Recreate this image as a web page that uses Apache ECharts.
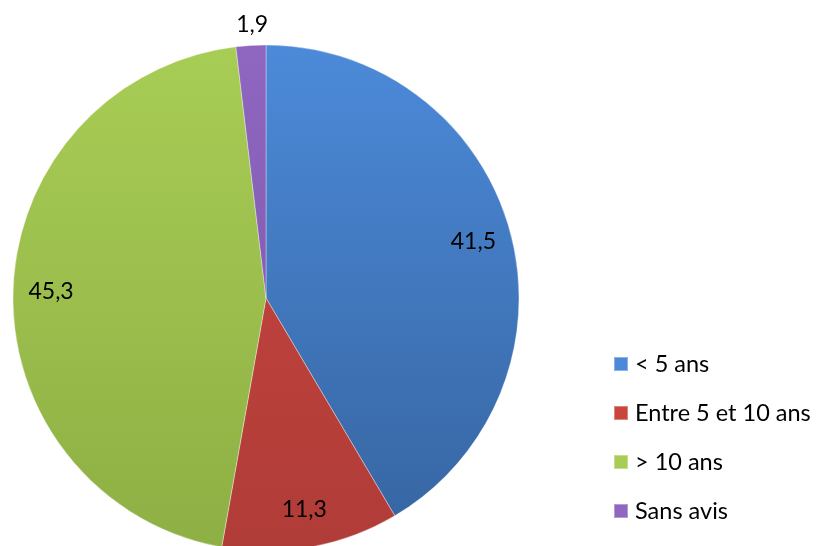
<!DOCTYPE html>
<html><head><meta charset="utf-8">
<script src="https://cdn.jsdelivr.net/npm/echarts@6/dist/echarts.min.js"></script>
<style>html,body{margin:0;padding:0;background:#fff}#c{width:817px;height:546px}</style>
</head><body><div id="c"></div>
<script>
const categories = ['< 5 ans', 'Entre 5 et 10 ans', '> 10 ans', 'Sans avis'];
const values = [41.5, 11.3, 45.3, 1.9];
const labels = ['41,5', '11,3', '45,3', '1,9'];
const colorsTop = ['#4c8ad9', '#c9463f', '#a8cd55', '#8f66c0'];
const colorsBot = ['#3664a0', '#b03c38', '#8eaf44', '#7a56a6'];

function grad(i){
  return {type:'linear', x:0, y:44, x2:0, y2:550, global:true,
    colorStops:[{offset:0,color:colorsTop[i]},{offset:1,color:colorsBot[i]}]};
}
const chart = echarts.init(document.getElementById('c'));
const FONT = 'Lato';
chart.setOption({
  animation:false,
  legend:{
    orient:'vertical', left:608, top:347,
    itemWidth:14, itemHeight:14, itemGap:25,
    icon:'rect',
    textStyle:{fontFamily:FONT, fontSize:23.5, color:'#000', lineHeight:20, padding:[0,0,0,2]},
    data: categories
  },
  series:[
    {
      type:'pie', center:[266,298], radius:[0,253], startAngle:90, clockwise:true,
      silent:true, label:{show:false}, labelLine:{show:false},
      itemStyle:{borderColor:'rgba(255,255,255,0.35)', borderWidth:1},
      data: categories.map((c,i)=>({name:c, value:values[i], itemStyle:{color:grad(i)}}))
    },
    {
      type:'pie', center:[266,298], radius:[171,253], startAngle:90, clockwise:true,
      silent:true, legendHoverLink:false,
      itemStyle:{color:'rgba(0,0,0,0)'},
      labelLine:{show:false},
      label:{show:true, position:'inside', fontFamily:FONT, fontSize:23, color:'#000',
        formatter:p=>labels[p.dataIndex]},
      data: categories.map((c,i)=>({name:c+' ', value:values[i],
        label: i===3 ? {offset:[-1,-59]} : {}}))
    }
  ]
});
</script></body></html>
